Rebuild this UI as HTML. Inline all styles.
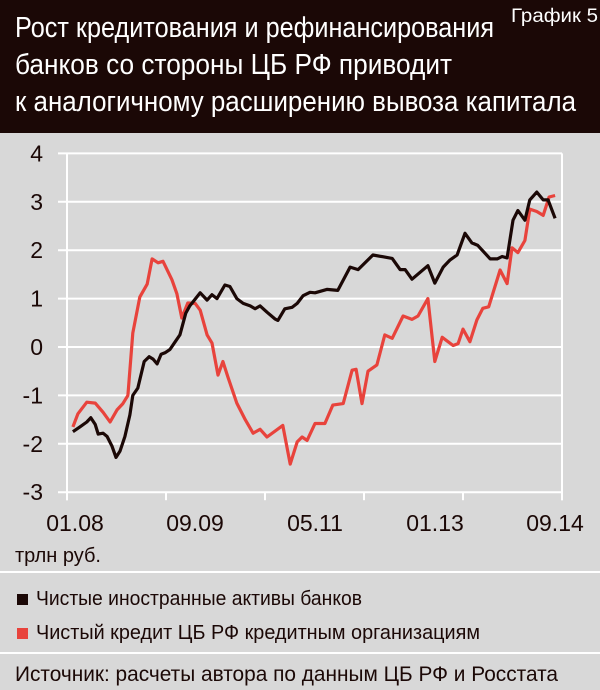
<!DOCTYPE html>
<html><head><meta charset="utf-8">
<style>
html,body{margin:0;padding:0;background:#d8d8d8;}
svg{display:block;}
text{font-family:"Liberation Sans Narrow","Liberation Sans",sans-serif;}
</style></head>
<body>
<svg id="chart" width="600" height="690" viewBox="0 0 600 690" xmlns="http://www.w3.org/2000/svg">
  <rect x="0" y="0" width="600" height="690" fill="#d8d8d8"/>
  <rect x="0" y="0" width="600" height="133" fill="#1b0806"/>
  <text x="15" y="37" font-size="29" fill="#fff" textLength="479" lengthAdjust="spacingAndGlyphs">Рост кредитования и рефинансирования</text>
  <text x="15" y="74" font-size="29" fill="#fff" textLength="437" lengthAdjust="spacingAndGlyphs">банков со стороны ЦБ РФ приводит</text>
  <text x="15" y="111" font-size="29" fill="#fff" textLength="561" lengthAdjust="spacingAndGlyphs">к аналогичному расширению вывоза капитала</text>
  <text x="511" y="22" font-size="19" fill="#fff" textLength="87" lengthAdjust="spacingAndGlyphs">График 5</text>
  <g id="grid"></g>
  <g id="yticks"></g>
  <g id="xticks"></g>
  <g id="series"></g>
  <text x="15" y="562" font-size="20" fill="#1b0806" textLength="86" lengthAdjust="spacingAndGlyphs">трлн руб.</text>
  <line x1="0" y1="572" x2="600" y2="572" stroke="#fff" stroke-width="2"/>
  <g>
    <rect x="17" y="594" width="11" height="11" fill="#1b0806"/>
    <text x="36" y="605" font-size="20" fill="#1b0806" textLength="326" lengthAdjust="spacingAndGlyphs">Чистые иностранные активы банков</text>
  </g>
  <g>
    <rect x="17" y="628" width="11" height="11" fill="#e8433c"/>
    <text x="36" y="639" font-size="20" fill="#1b0806" textLength="444" lengthAdjust="spacingAndGlyphs">Чистый кредит ЦБ РФ кредитным организациям</text>
  </g>
  <line x1="0" y1="653" x2="600" y2="653" stroke="#fff" stroke-width="2"/>
  <text x="15" y="681" font-size="21" fill="#1b0806" textLength="543" lengthAdjust="spacingAndGlyphs">Источник: расчеты автора по данным ЦБ РФ и Росстата</text>
</svg>
<script>
// months since 01.08
const xTickMonths = [0, 20, 40, 60, 80, 100];
const xTickLabels = ["01.08", "09.09", "05.11", "01.13", "09.14"];
const yTickValues = [-3, -2, -1, 0, 1, 2, 3, 4];
const blackMonths = [1.2,2.6,4.0,4.8,5.7,6.3,7.3,8.1,9.1,9.9,10.7,11.7,12.7,13.3,14.3,15.6,16.6,17.4,18.2,19.0,19.8,20.8,21.8,22.8,24.0,24.8,26.9,28.3,29.3,30.3,31.9,32.9,34.3,35.6,37.0,38.0,39.0,40.4,42.0,42.6,44.0,45.5,46.5,47.7,49.1,50.1,52.5,54.7,57.2,58.8,61.8,65.7,67.3,68.3,69.7,72.9,74.3,76.0,77.4,78.8,80.4,81.8,83.0,85.5,86.9,87.9,88.9,90.1,91.1,92.5,93.5,94.9,96.2,97.2,98.6];
const blackValues = [-1.75,-1.65,-1.55,-1.46,-1.6,-1.8,-1.78,-1.85,-2.05,-2.28,-2.15,-1.85,-1.4,-1.0,-0.85,-0.3,-0.2,-0.25,-0.35,-0.15,-0.12,-0.05,0.1,0.25,0.7,0.85,1.12,0.97,1.08,1.0,1.28,1.25,1.0,0.9,0.85,0.79,0.85,0.72,0.58,0.55,0.79,0.82,0.9,1.06,1.13,1.12,1.19,1.17,1.65,1.6,1.9,1.83,1.6,1.6,1.4,1.68,1.32,1.65,1.8,1.9,2.35,2.15,2.1,1.82,1.82,1.87,1.84,2.62,2.82,2.62,3.04,3.2,3.04,3.04,2.66];
const redMonths = [1.2,2.2,4.0,5.7,7.3,8.7,10.1,11.3,12.3,13.3,14.7,16.2,17.2,18.4,19.4,21.2,22.2,23.2,24.4,25.9,26.9,28.3,29.3,30.5,31.5,32.5,34.3,36.0,37.6,39.0,40.4,43.6,45.1,46.5,47.5,48.5,50.1,52.1,53.7,55.8,57.6,58.4,59.6,60.8,62.6,64.2,65.7,67.9,69.7,70.9,72.9,74.3,75.8,78.0,79.0,80.0,81.4,82.8,84.0,85.2,87.5,88.9,89.9,91.1,92.5,93.5,94.9,96.2,97.4,98.6];
const redValues = [-1.65,-1.38,-1.14,-1.16,-1.35,-1.55,-1.3,-1.17,-1.0,0.29,1.03,1.3,1.82,1.74,1.77,1.39,1.1,0.6,0.91,0.9,0.76,0.25,0.08,-0.58,-0.3,-0.62,-1.16,-1.5,-1.78,-1.7,-1.86,-1.62,-2.42,-1.96,-1.86,-1.93,-1.58,-1.58,-1.2,-1.17,-0.48,-0.46,-1.17,-0.5,-0.37,0.25,0.18,0.64,0.57,0.64,1.0,-0.3,0.2,0.03,0.07,0.37,0.11,0.56,0.8,0.83,1.59,1.31,2.05,1.95,2.2,2.85,2.8,2.72,3.1,3.13];

const NS = "http://www.w3.org/2000/svg";
const X0 = 67, X1 = 562, M0 = 0, M1 = 100;
const Y0 = 347, PX_PER_UNIT = 48.4;
function xScale(m){ return X0 + (m - M0) / (M1 - M0) * (X1 - X0); }
function yScale(v){ return Y0 - v * PX_PER_UNIT; }
function mk(tag, attrs){ const e = document.createElementNS(NS, tag); for (const k in attrs) e.setAttribute(k, attrs[k]); return e; }

const grid = document.getElementById('grid');
yTickValues.forEach(v => {
  const l = mk('line', {x1: 58, x2: xScale(100), y1: yScale(v), y2: yScale(v), stroke: '#fff', 'stroke-width': 2});
  
  
  grid.appendChild(l);
});
const yAxisLine = mk('line', {x1: xScale(0), x2: xScale(0), y1: yScale(4), y2: yScale(-3) + 8, stroke: '#fff', 'stroke-width': 2});


grid.appendChild(yAxisLine);
const rightLine = mk('line', {x1: xScale(100), x2: xScale(100), y1: yScale(4), y2: yScale(-3) + 8, stroke: '#fff', 'stroke-width': 2});


grid.appendChild(rightLine);

const yt = document.getElementById('yticks');
yTickValues.forEach(v => {
  const t = mk('text', {x: 43, y: yScale(v) + 8, 'font-size': 23, fill: '#1b0806', 'text-anchor': 'end'});
  t.textContent = String(v);
  
  
  yt.appendChild(t);
});

const xt = document.getElementById('xticks');
xTickMonths.forEach(m => {
  const l = mk('line', {x1: xScale(m), x2: xScale(m), y1: yScale(-3), y2: yScale(-3) + 8, stroke: '#fff', 'stroke-width': 2});
  
  
  xt.appendChild(l);
});
xTickLabels.forEach((lab, i) => {
  const t = mk('text', {x: 75 + i * 120, y: 531, 'font-size': 23, fill: '#1b0806', 'text-anchor': 'middle'});
  t.textContent = lab;
  
  
  xt.appendChild(t);
});

const ser = document.getElementById('series');
function drawLine(ms, vs, color, name){
  const d = ms.map((m, i) => (i ? 'L' : 'M') + xScale(m).toFixed(1) + ' ' + yScale(vs[i]).toFixed(1)).join(' ');
  const p = mk('path', {d: d, fill: 'none', stroke: color, 'stroke-width': 3.2, 'stroke-linejoin': 'round'});
  
  
  ser.appendChild(p);
}
drawLine(redMonths, redValues, '#e8433c', 'line-cbr-credit');
drawLine(blackMonths, blackValues, '#1b0806', 'line-foreign-assets');
</script>
</body></html>
